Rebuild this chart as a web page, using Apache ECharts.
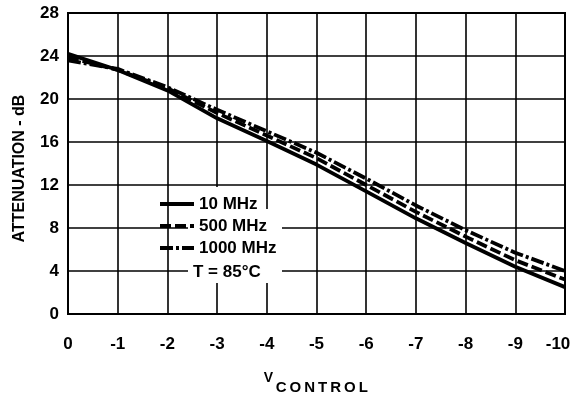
<!DOCTYPE html>
<html>
<head>
<meta charset="utf-8">
<script src="https://cdn.jsdelivr.net/npm/echarts@6/dist/echarts.min.js"></script>
<style>
html,body{margin:0;padding:0;background:#fff;}
#chart{width:574px;height:395px;}
</style>
</head>
<body>
<div id="chart"></div>
<script>
var vControl = [0, -1, -2, -3, -4, -5, -6, -7, -8, -9, -10];
var att10MHz = [24.2, 22.7, 20.8, 18.2, 16.1, 13.9, 11.4, 8.9, 6.6, 4.4, 2.5];
var att500MHz = [23.9, 22.7, 21.0, 18.7, 16.6, 14.5, 12.0, 9.5, 7.2, 5.0, 3.2];
var att1000MHz = [23.6, 22.8, 21.1, 19.0, 17.0, 15.0, 12.6, 10.1, 7.8, 5.7, 4.0];
var seriesNames = ['10 MHz', '500 MHz', '1000 MHz'];
var tempLabel = 'T = 85°C';

function pairs(ys) { return vControl.map(function (x, i) { return [x, ys[i]]; }); }

var FONT = "'Liberation Sans', Arial, sans-serif";

var chart = echarts.init(document.getElementById('chart'), null, {renderer: 'canvas'});
chart.setOption({
  animation: false,
  backgroundColor: '#fff',
  grid: {left: 68, right: 9, top: 13, bottom: 81, containLabel: false, outerBoundsMode: 'none', show: true, borderColor: '#000', borderWidth: 2, backgroundColor: 'transparent'},
  xAxis: {
    type: 'value', min: -10, max: 0, interval: 1, inverse: true,
    name: '{v|V}{g| }{c|C}{c|O}{c|N}{c|T}{c|R}{c|O}{c|L}', nameLocation: 'middle', nameGap: 57,
    nameTextStyle: {
      rich: {
        v: {fontFamily: FONT, fontWeight: 'bold', fontSize: 14, color: '#000', lineHeight: 24, verticalAlign: 'top'},
        g: {fontSize: 4, lineHeight: 24},
        c: {fontFamily: FONT, fontWeight: 'bold', fontSize: 15, color: '#000', lineHeight: 24, verticalAlign: 'bottom', padding: [0, 1.5, 0, 1.5]}
      }
    },
    axisLine: {show: true, lineStyle: {color: '#000', width: 2}},
    axisTick: {show: false},
    axisLabel: {
      color: '#000', fontFamily: FONT, fontWeight: 'bold', fontSize: 17, margin: 22,
      formatter: function (v) { return v === -10 ? '{r|' + v + '}' : String(v); },
      rich: {r: {fontFamily: FONT, fontWeight: 'bold', fontSize: 17, color: '#000', padding: [0, 14, 0, 0]}}
    },
    splitLine: {show: true, lineStyle: {color: '#000', width: 1.6}}
  },
  yAxis: {
    type: 'value', min: 0, max: 28, interval: 4,
    name: 'ATTENUATION - dB', nameLocation: 'middle', nameGap: 40, nameRotate: 90,
    nameTextStyle: {fontFamily: FONT, fontWeight: 'bold', fontSize: 16, color: '#000', padding: [0, 10, 0, 0]},
    axisLine: {show: true, lineStyle: {color: '#000', width: 2}},
    axisTick: {show: false},
    axisLabel: {color: '#000', fontFamily: FONT, fontWeight: 'bold', fontSize: 17, margin: 9},
    splitLine: {show: true, lineStyle: {color: '#000', width: 1.6}}
  },
  legend: {
    orient: 'vertical', left: 153, top: 190, itemWidth: 34, itemHeight: 8, itemGap: 4,
    itemStyle: {opacity: 0},
    lineStyle: {width: 4},
    textStyle: {fontFamily: FONT, fontWeight: 'bold', fontSize: 17, color: '#000', lineHeight: 18},
    data: seriesNames.map(function (n) { return {name: n}; })
  },
  graphic: [
    {type: 'rect', z: 1, shape: {x: 188, y: 187, width: 74, height: 96}, style: {fill: '#fff'}},
    {type: 'rect', z: 1, shape: {x: 262, y: 209, width: 20, height: 74}, style: {fill: '#fff'}},
    {type: 'text', z: 5, x: 193, y: 272, style: {text: tempLabel, font: "bold 17px 'Liberation Sans', Arial, sans-serif", fill: '#000', verticalAlign: 'middle', align: 'left'}}
  ],
  series: [
    {name: seriesNames[0], type: 'line', data: pairs(att10MHz), showSymbol: false, symbol: 'none', lineStyle: {color: '#000', width: 3.8, type: 'solid'}, itemStyle: {color: '#000'}},
    {name: seriesNames[1], type: 'line', data: pairs(att500MHz), showSymbol: false, symbol: 'none', lineStyle: {color: '#000', width: 3.8, type: [11, 4]}, itemStyle: {color: '#000'}},
    {name: seriesNames[2], type: 'line', data: pairs(att1000MHz), showSymbol: false, symbol: 'none', lineStyle: {color: '#000', width: 3.8, type: [13, 3, 3, 3]}, itemStyle: {color: '#000'}}
  ]
});
</script>
</body>
</html>
